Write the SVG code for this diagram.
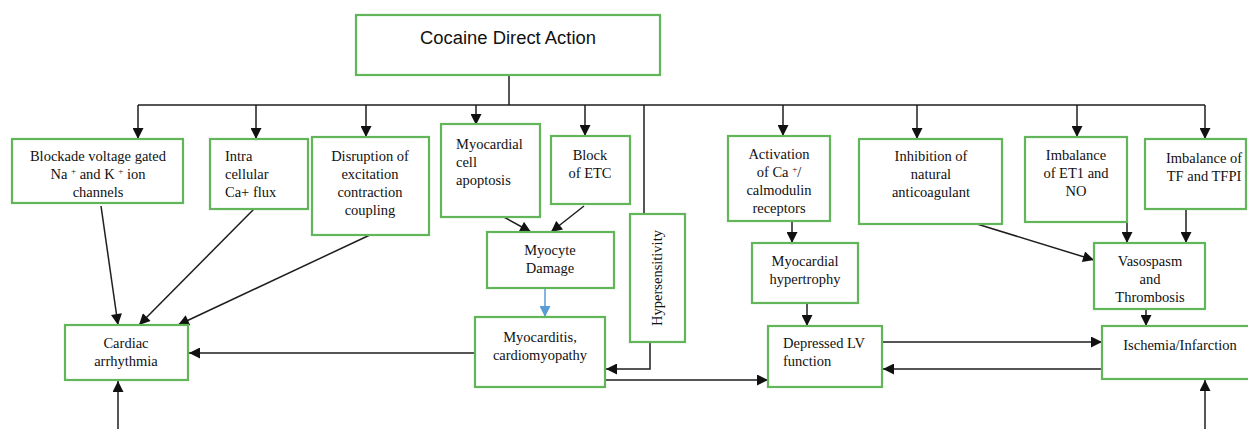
<svg xmlns="http://www.w3.org/2000/svg" width="1248" height="429" viewBox="0 0 1248 429">
<style>
.box{fill:#ffffff;stroke:#62b558;stroke-width:2.2}
.t{font-family:"Liberation Serif","Times New Roman",serif;font-size:14.5px;fill:#111}
.c{text-anchor:middle}
.ln{fill:none;stroke:#1e1e1e;stroke-width:1.5}
.sup{font-size:9px}
</style>
<defs>
<marker id="ah" viewBox="0 0 10 10" refX="10" refY="5" markerWidth="12" markerHeight="11" markerUnits="userSpaceOnUse" orient="auto">
<path d="M0,0 L10,5 L0,10 z" fill="#111"/>
</marker>
<marker id="ahb" viewBox="0 0 10 10" refX="10" refY="5" markerWidth="12" markerHeight="11" markerUnits="userSpaceOnUse" orient="auto">
<path d="M0,0 L10,5 L0,10 z" fill="#5b9bd5"/>
</marker>
<clipPath id="clip1"><rect x="0" y="0" width="1248" height="197"/></clipPath>
</defs>
<rect width="1248" height="429" fill="#ffffff"/>

<g id="connectors">
<path class="ln" d="M509,75 V105"/>
<path class="ln" d="M138,105 H1205"/>
<path class="ln" d="M138,105 V139" marker-end="url(#ah)"/>
<path class="ln" d="M256,105 V139" marker-end="url(#ah)"/>
<path class="ln" d="M366,105 V137" marker-end="url(#ah)"/>
<path class="ln" d="M476,105 V125" marker-end="url(#ah)"/>
<path class="ln" d="M585,105 V136" marker-end="url(#ah)"/>
<path class="ln" d="M783,105 V136" marker-end="url(#ah)"/>
<path class="ln" d="M917,105 V139" marker-end="url(#ah)"/>
<path class="ln" d="M1077,105 V137" marker-end="url(#ah)"/>
<path class="ln" d="M1205,105 V139" marker-end="url(#ah)"/>
<path class="ln" d="M644,105 V214"/>
<path class="ln" d="M650,342 V369 H606" marker-end="url(#ah)"/>
<path class="ln" d="M101,206 L118,325" marker-end="url(#ah)"/>
<path class="ln" d="M255,208 L139,325" marker-end="url(#ah)"/>
<path class="ln" d="M372,234 L178,325" marker-end="url(#ah)"/>
<path class="ln" d="M475,353 H189" marker-end="url(#ah)"/>
<path class="ln" d="M118,429 V381" marker-end="url(#ah)"/>
<path class="ln" d="M502,216 L531,232" marker-end="url(#ah)"/>
<path class="ln" d="M584,206 L551,232" marker-end="url(#ah)"/>
<path fill="none" stroke="#5b9bd5" stroke-width="1.5" d="M545,288 V317" marker-end="url(#ahb)"/>
<path class="ln" d="M605,380 H768" marker-end="url(#ah)"/>
<path class="ln" d="M792,221 V243" marker-end="url(#ah)"/>
<path class="ln" d="M807,303 V326" marker-end="url(#ah)"/>
<path class="ln" d="M882,342 H1102" marker-end="url(#ah)"/>
<path class="ln" d="M1102,369 H883" marker-end="url(#ah)"/>
<path class="ln" d="M977,224 L1094,260" marker-end="url(#ah)"/>
<path class="ln" d="M1127,222 V243" marker-end="url(#ah)"/>
<path class="ln" d="M1186,209 V243" marker-end="url(#ah)"/>
<path class="ln" d="M1146,309 V326" marker-end="url(#ah)"/>
<path class="ln" d="M1205,429 V380" marker-end="url(#ah)"/>
</g>

<g id="cocaine">
<rect class="box" x="356" y="15" width="304" height="60"/>
<text x="420" y="44" font-family="'Liberation Sans',Arial,sans-serif" font-size="18" fill="#111" textLength="176" lengthAdjust="spacingAndGlyphs">Cocaine Direct Action</text>
</g>

<g id="blockade">
<rect class="box" x="12" y="139" width="171" height="64"/>
<g clip-path="url(#clip1)">
<text class="t c" x="98" y="161">Blockade voltage gated</text>
<text class="t c" x="98" y="179">Na <tspan class="sup" dy="-5">+</tspan><tspan dy="5"> and K </tspan><tspan class="sup" dy="-5">+</tspan><tspan dy="5"> ion</tspan></text>
<text class="t c" x="98" y="197">channels</text>
</g>
</g>

<g id="intracellular">
<rect class="box" x="210" y="139" width="98" height="70"/>
<text class="t" x="225" y="161">Intra</text>
<text class="t" x="225" y="179">cellular</text>
<text class="t" x="225" y="197">Ca+ flux</text>
</g>

<g id="disruption">
<rect class="box" x="312" y="137" width="117" height="98"/>
<text class="t c" x="370" y="161">Disruption of</text>
<text class="t c" x="370" y="179">excitation</text>
<text class="t c" x="370" y="197">contraction</text>
<text class="t c" x="370" y="215">coupling</text>
</g>

<g id="apoptosis">
<rect class="box" x="441" y="124" width="99" height="93"/>
<text class="t" x="456" y="149">Myocardial</text>
<text class="t" x="456" y="167">cell</text>
<text class="t" x="456" y="185">apoptosis</text>
</g>

<g id="etc">
<rect class="box" x="551" y="136" width="79" height="68"/>
<text class="t c" x="590" y="160">Block</text>
<text class="t c" x="590" y="178">of ETC</text>
</g>

<g id="hypersensitivity">
<rect class="box" x="630" y="214" width="55" height="128"/>
<text class="t c" x="0" y="0" transform="translate(662,278) rotate(-90)">Hypersensitivity</text>
</g>

<g id="activation">
<rect class="box" x="728" y="136" width="102" height="85"/>
<text class="t c" x="779" y="159">Activation</text>
<text class="t c" x="779" y="177">of Ca <tspan class="sup" dy="-5">+</tspan><tspan dy="5">/</tspan></text>
<text class="t c" x="779" y="195">calmodulin</text>
<text class="t c" x="779" y="213">receptors</text>
</g>

<g id="inhibition">
<rect class="box" x="859" y="139" width="143" height="85"/>
<text class="t c" x="931" y="161">Inhibition of</text>
<text class="t c" x="931" y="179">natural</text>
<text class="t c" x="931" y="197">anticoagulant</text>
</g>

<g id="et1no">
<rect class="box" x="1025" y="137" width="102" height="85"/>
<text class="t c" x="1076" y="160">Imbalance</text>
<text class="t c" x="1076" y="178">of ET1 and</text>
<text class="t c" x="1076" y="196">NO</text>
</g>

<g id="tftfpi">
<rect class="box" x="1145" y="139" width="101" height="70"/>
<text class="t c" x="1204" y="163">Imbalance of</text>
<text class="t c" x="1204" y="181">TF and TFPI</text>
</g>

<g id="myocyte">
<rect class="box" x="487" y="232" width="127" height="56"/>
<text class="t c" x="550" y="255">Myocyte</text>
<text class="t c" x="550" y="273">Damage</text>
</g>

<g id="myocarditis">
<rect class="box" x="475" y="317" width="130" height="70"/>
<text class="t c" x="540" y="342">Myocarditis,</text>
<text class="t c" x="540" y="360">cardiomyopathy</text>
</g>

<g id="hypertrophy">
<rect class="box" x="752" y="243" width="106" height="60"/>
<text class="t c" x="805" y="266">Myocardial</text>
<text class="t c" x="805" y="284">hypertrophy</text>
</g>

<g id="depressed">
<rect class="box" x="768" y="326" width="114" height="61"/>
<text class="t" x="783" y="348">Depressed LV</text>
<text class="t" x="783" y="366">function</text>
</g>

<g id="vasospasm">
<rect class="box" x="1094" y="243" width="111" height="66"/>
<text class="t c" x="1150" y="266">Vasospasm</text>
<text class="t c" x="1150" y="284">and</text>
<text class="t c" x="1150" y="302">Thrombosis</text>
</g>

<g id="ischemia">
<rect class="box" x="1102" y="326" width="160" height="53"/>
<text class="t c" x="1180" y="350">Ischemia/Infarction</text>
</g>

<g id="arrhythmia">
<rect class="box" x="65" y="325" width="123" height="55"/>
<text class="t c" x="126" y="348">Cardiac</text>
<text class="t c" x="126" y="366">arrhythmia</text>
</g>
</svg>
